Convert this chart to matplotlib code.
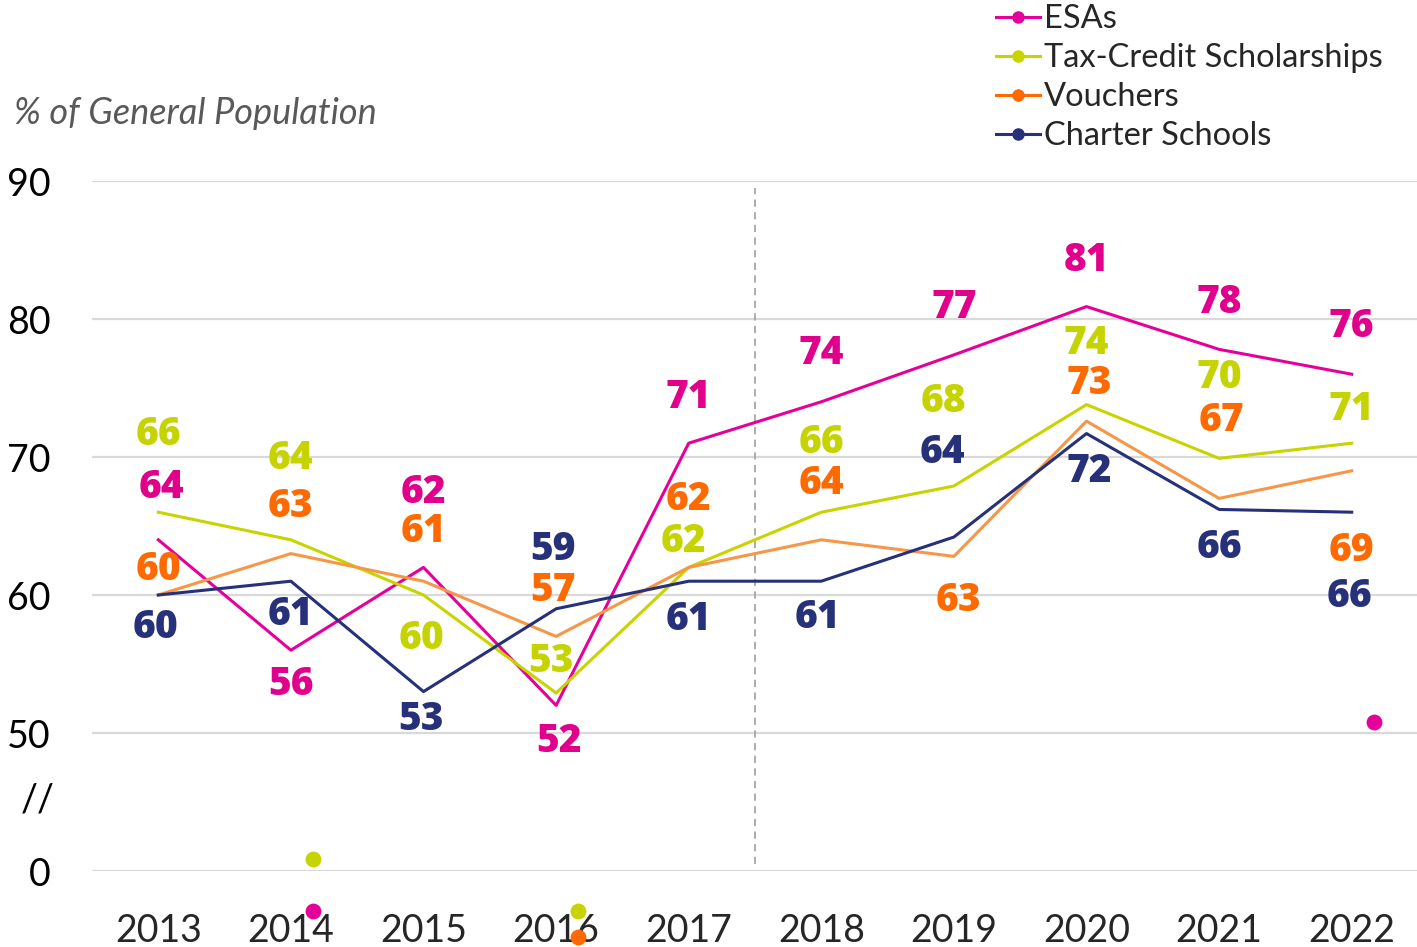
import numpy as np
import matplotlib.pyplot as plt
from matplotlib.lines import Line2D

plt.rcParams['font.family'] = ['Lato', 'DejaVu Sans']

# Data
years = [2013, 2014, 2015, 2016, 2017, 2018, 2019, 2020, 2021, 2022]
esas = [64, 56, 62, 52, 71, 74, 77.4, 80.9, 77.8, 76]
tax_credit = [66, 64, 60, 52.9, 62, 66, 67.9, 73.8, 69.9, 71]
vouchers = [60, 63, 61, 57, 62, 64, 62.8, 72.6, 67, 69]
charter = [60, 61, 53, 59, 61, 61, 64.2, 71.7, 66.2, 66]
series_names = ['ESAs', 'Tax-Credit Scholarships', 'Vouchers', 'Charter Schools']

# stray marker dots left in the original chart (x year, y on plot scale)
stray_x = [2014, 2014, 2016, 2016, 2022]
stray_y = [40.9, 37.1, 37.1, 35.2, 50.8]
stray_series = [1, 0, 1, 2, 0]

# colours
line_colors = ['#E6009A', '#C8D400', '#F79646', '#27317A']
label_colors = ['#E0008C', '#C5D400', '#FF6A00', '#27317A']
marker_colors = ['#E6009A', '#C8D400', '#FF6A00', '#27317A']

# label offsets in pixels (dx, dy)
esa_off = [(3, 52), (0, -34), (0, 75), (3, -36), (0, 46), (0, 48), (0, 47), (0, 46), (0, 47), (0, 48)]
tax_off = [(0, 78), (0, 81), (-2, -43), (-5, 31), (-5, 26), (0, 70), (-10, 84), (0, 61), (0, 81), (0, 34)]
vou_off = [(0, 26), (0, 47), (0, 50), (-3, 46), (0, 68), (0, 56), (5, -44), (3, 38), (2, 78), (0, -80)]
cha_off = [(-3, -32), (0, -33), (-2, -28), (-3, 59), (0, -38), (-4, -36), (-11, 85), (3, -38), (0, -38), (-2, -84)]

all_series = [esas, tax_credit, vouchers, charter]
all_offsets = [esa_off, tax_off, vou_off, cha_off]

fig = plt.figure(figsize=(14.17, 9.47), dpi=100)
ax = fig.add_axes([92 / 1417, 1 - 871 / 947, 1326 / 1417, 690 / 947])

ax.set_xlim(2012.5, 2022.5)
ax.set_ylim(40, 90)

for vals, lc, lab_c, offs in zip(all_series, line_colors, label_colors, all_offsets):
    ax.plot(years, vals, color=lc, lw=2.2, zorder=3)
    for x, v, (dx, dy) in zip(years, vals, offs):
        ax.annotate(f'{int(round(v))}', (x, v), xytext=(dx, dy), textcoords='offset pixels',
                    ha='center', va='center', fontsize=28, fontweight='heavy', color=lab_c,
                    family=['Open Sans', 'DejaVu Sans'], zorder=4)

for x, y, s in zip(stray_x, stray_y, stray_series):
    ax.scatter(x + 0.165, y, s=130, color=marker_colors[s], zorder=5, clip_on=False, linewidths=0)

# grid lines
for g in [40, 50, 60, 70, 80, 90]:
    ax.axhline(g, color='#D9D9D9', lw=1.6, zorder=1)
ax.axvline(2017.5, color='#A6A6A6', lw=1.3, ls=(0, (4, 3)), ymin=0.01, ymax=0.99, zorder=1)

for sp in ax.spines.values():
    sp.set_visible(False)

ax.set_xticks(years)
ax.set_xticklabels([str(y) for y in years], fontsize=27, color='#262626')
ax.set_yticks([40, 50, 60, 70, 80, 90])
ax.set_yticklabels(['0', '50', '60', '70', '80', '90'], fontsize=27, color='#000000')
ax.tick_params(axis='x', length=0, pad=30)
ax.tick_params(axis='y', length=0, pad=30)
ax.text(-37 / 1326, 45.1, '//', transform=ax.get_yaxis_transform(), ha='right', va='center',
        fontsize=27, color='#000000')

fig.text(14 / 1417, 1 - 114 / 947, '% of General Population', fontsize=26, style='italic',
         color='#595959', ha='left', va='center')

handles = [Line2D([], [], color=c, lw=2.2, marker='o', markersize=8) for c in marker_colors]
fig.legend(handles, series_names, loc='upper left', bbox_to_anchor=(983 / 1417, 1 + 9 / 947),
           frameon=False, fontsize=23.5, handlelength=1.35, handletextpad=0.12,
           labelspacing=0.28, borderaxespad=0, labelcolor='#262626')

fig.savefig('out.png', dpi=100)
